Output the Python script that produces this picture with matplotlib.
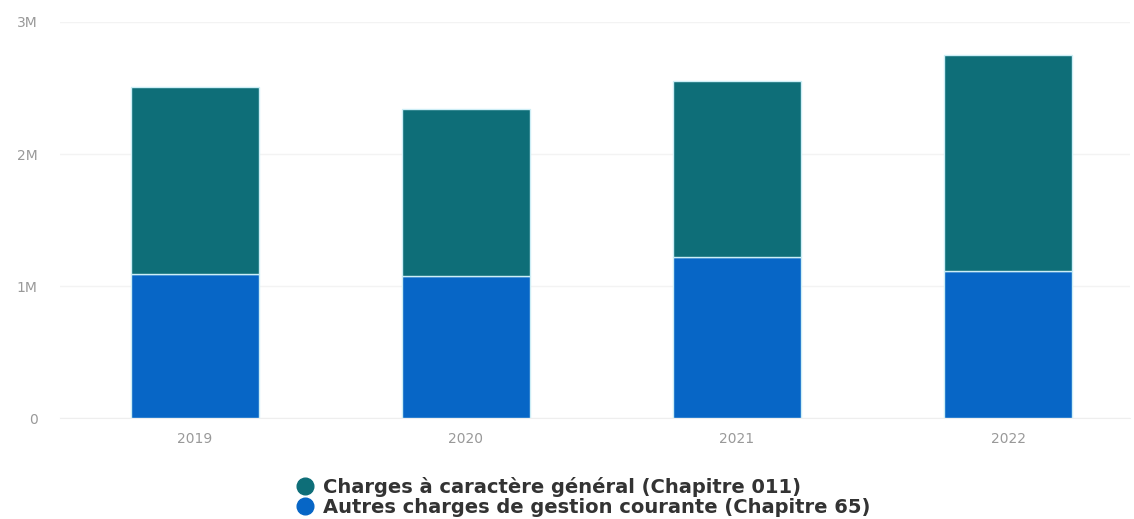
import matplotlib
matplotlib.use("Agg")
import matplotlib.pyplot as plt
from matplotlib.lines import Line2D
from matplotlib.ticker import FixedLocator, FixedFormatter

plt.rcParams["font.family"] = ["DejaVu Sans"]

years = ["2019", "2020", "2021", "2022"]
# Values in euros
autres_charges = [1092000, 1074000, 1220000, 1111000]      # Chapitre 65
charges_generales = [1412000, 1270000, 1334000, 1640000]   # Chapitre 011
y_ticks = [0, 1_000_000, 2_000_000, 3_000_000]
y_tick_labels = ["0", "1M", "2M", "3M"]

series_names = [
    "Charges à caractère général (Chapitre 011)",
    "Autres charges de gestion courante (Chapitre 65)",
]
teal = "#0e6e78"
blue = "#0766c6"

W, H = 1134, 519
fig = plt.figure(figsize=(W / 100, H / 100), dpi=100)
ax = fig.add_axes([60 / W, (H - 418) / H, (1130 - 60) / W, (418 - 22) / H])

x = list(range(len(years)))
width = 0.472
ax.bar(x, autres_charges, width=width, color=blue,
       edgecolor="#cdeef6", linewidth=1.0, zorder=3)
ax.bar(x, charges_generales, width=width, bottom=autres_charges, color=teal,
       edgecolor="#cdeef6", linewidth=1.0, zorder=3)

ax.set_xlim(-0.498, 3.45)
ax.set_ylim(0, 3_000_000)
ax.yaxis.set_major_locator(FixedLocator(y_ticks))
ax.yaxis.set_major_formatter(FixedFormatter(y_tick_labels))
ax.set_xticks(x)
ax.set_xticklabels(years)

ax.grid(axis="y", color="#f3f3f3", linewidth=1, zorder=0)
for s in ["top", "right", "left"]:
    ax.spines[s].set_visible(False)
ax.spines["bottom"].set_color("#eeeeee")
ax.tick_params(axis="both", length=0, labelsize=10, labelcolor="#999999")
ax.tick_params(axis="y", pad=16)
ax.tick_params(axis="x", pad=10)

handles = [
    Line2D([], [], marker="o", linestyle="none", markersize=12, color=teal),
    Line2D([], [], marker="o", linestyle="none", markersize=12, color=blue),
]
fig.legend(handles, series_names, loc="center left",
           bbox_to_anchor=(286 / W, (H - 497) / H), frameon=False,
           prop={"size": 14, "weight": "bold"}, labelcolor="#333333",
           handletextpad=0.4, labelspacing=0.08, borderpad=0,
           handlelength=1.0)

fig.savefig("out.png", dpi=100, facecolor="white")
